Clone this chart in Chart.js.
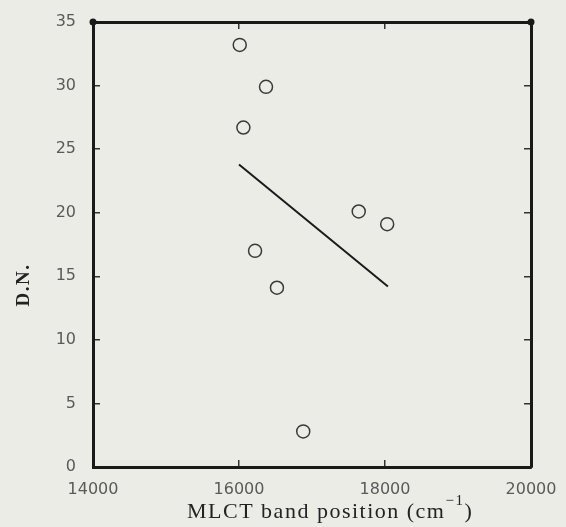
<!DOCTYPE html>
<html>
<head>
<meta charset="utf-8">
<script src="https://cdn.jsdelivr.net/npm/chart.js@4.4.1/dist/chart.umd.min.js"></script>
<style>
  html, body { margin: 0; padding: 0; background: #ecece6; }
  #wrap { width: 566px; height: 527px; }
</style>
</head>
<body>
<div id="wrap"><canvas id="dnChart"></canvas></div>
<script>
// measured points: MLCT band position (cm-1) vs D.N.
const bandPos = [16010, 16370, 16060, 17640, 18030, 16220, 16520, 16880];
const dnValues = [33.2, 29.9, 26.7, 20.1, 19.1, 17.0, 14.1, 2.8];
// fitted line end points
const fitPos = [16000, 18040];
const fitDn = [23.8, 14.2];
// axis ticks
const xTicks = [14000, 16000, 18000, 20000];
const yTicks = [0, 5, 10, 15, 20, 25, 30, 35];

const ink = '#1a1a1a';

function inwardGrid() {
    return { drawOnChartArea: false, drawTicks: true, tickLength: -7, color: '#333', lineWidth: 1.5 };
}

// fixed box sizes; drop the label overhang padding so the frame lands where it should
function fixSize(w, h) {
    return s => {
        if (w !== null) s.width = w;
        if (h !== null) s.height = h;
        s.paddingTop = 0; s.paddingBottom = 0;
        s.paddingLeft = 0; s.paddingRight = 0;
    };
}

// axis titles drawn by hand so they can sit where the original puts them
const axisTitles = {
    id: 'axisTitles',
    afterDraw(chart) {
        const c = chart.ctx;
        const a = chart.chartArea;
        c.save();
        c.fillStyle = '#222';
        c.letterSpacing = '1.5px';
        c.textBaseline = 'alphabetic';
        c.textAlign = 'left';
        // x title with superscript
        c.font = '22px "Liberation Serif"';
        const main = 'MLCT band position (cm';
        let x = a.left + 94;
        const base = 518;
        c.fillText(main, x, base);
        x += c.measureText(main).width;
        c.font = '15px "Liberation Serif"';
        c.fillText('\u22121', x, base - 13);
        x += c.measureText('\u22121').width;
        c.font = '22px "Liberation Serif"';
        c.fillText(')', x, base);
        // y title
        c.translate(24, 285);
        c.rotate(-Math.PI / 2);
        c.textAlign = 'center';
        c.textBaseline = 'middle';
        c.font = 'bold 19px "Liberation Serif"';
        c.fillText('D.N.', 0, 0);
        c.restore();
        // small blobs at the upper corners of the frame
        c.save();
        c.fillStyle = ink;
        [a.left, a.right].forEach(px => {
            c.beginPath();
            c.arc(px, a.top, 3.5, 0, Math.PI * 2);
            c.fill();
        });
        c.restore();
    }
};

const ctx = document.getElementById('dnChart');
new Chart(ctx, {
    type: 'scatter',
    data: {
        datasets: [{
            label: 'D.N.',
            data: bandPos.map((x, i) => ({ x: x, y: dnValues[i] })),
            pointStyle: 'circle',
            pointRadius: 6.5,
            pointBorderWidth: 1.5,
            pointBorderColor: '#3a3a3a',
            pointBackgroundColor: 'rgba(0,0,0,0)',
            showLine: false
        }, {
            label: 'fit',
            data: fitPos.map((x, i) => ({ x: x, y: fitDn[i] })),
            showLine: true,
            borderColor: ink,
            borderWidth: 2,
            pointRadius: 0
        }]
    },
    options: {
        responsive: true,
        maintainAspectRatio: false,
        animation: false,
        layout: { padding: 0 },
        plugins: { legend: { display: false }, tooltip: { enabled: false } },
        scales: {
            x: {
                type: 'linear',
                position: 'bottom',
                min: 14000,
                max: 20000,
                afterBuildTicks: s => { s.ticks = xTicks.map(v => ({ value: v })); },
                afterFit: fixSize(null, 60),
                ticks: {
                    padding: 20,
                    color: '#5a5a5a',
                    font: { family: 'DejaVu Sans', size: 16 },
                    callback: v => String(v)
                },
                grid: inwardGrid(),
                border: { color: ink, width: 3 }
            },
            x2: {
                type: 'linear',
                position: 'top',
                min: 14000,
                max: 20000,
                afterBuildTicks: s => { s.ticks = xTicks.map(v => ({ value: v })); },
                afterFit: fixSize(null, 22),
                ticks: { display: false },
                grid: inwardGrid(),
                border: { color: ink, width: 3 }
            },
            y: {
                type: 'linear',
                position: 'left',
                min: 0,
                max: 35,
                afterBuildTicks: s => { s.ticks = yTicks.map(v => ({ value: v })); },
                afterFit: fixSize(93, null),
                ticks: {
                    padding: 24,
                    color: '#5a5a5a',
                    font: { family: 'DejaVu Sans', size: 16 }
                },
                grid: inwardGrid(),
                border: { color: ink, width: 3 }
            },
            y2: {
                type: 'linear',
                position: 'right',
                min: 0,
                max: 35,
                afterBuildTicks: s => { s.ticks = yTicks.map(v => ({ value: v })); },
                afterFit: fixSize(35, null),
                ticks: { display: false },
                grid: inwardGrid(),
                border: { color: ink, width: 3 }
            }
        }
    },
    plugins: [axisTitles]
});
</script>
</body>
</html>
